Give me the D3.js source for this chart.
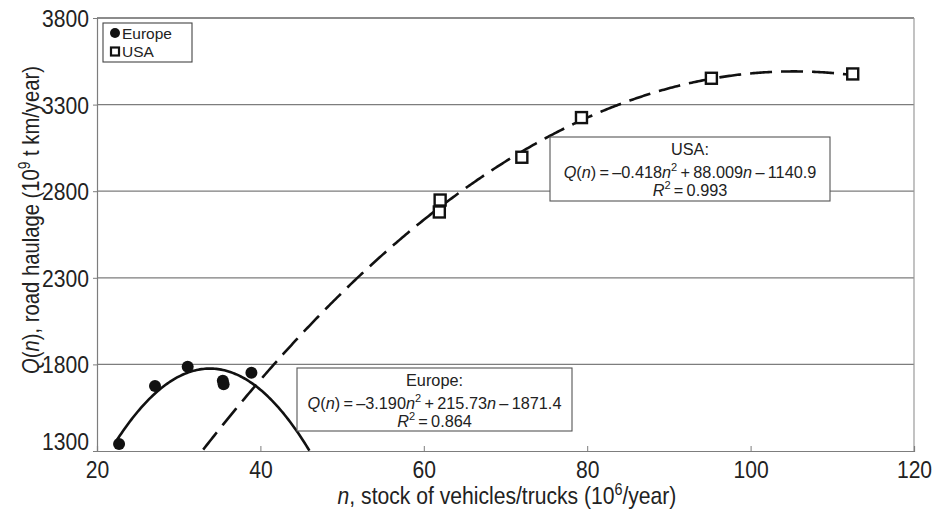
<!DOCTYPE html>
<html>
<head>
<meta charset="utf-8">
<script src="https://cdn.jsdelivr.net/npm/d3@7/dist/d3.min.js"></script>
<style>
  html, body { margin: 0; padding: 0; background: #fff; }
  svg { display: block; }
  text { font-family: "Liberation Sans", Arial, sans-serif; fill: #222; }
</style>
</head>
<body>
<svg id="chart" width="932" height="513"></svg>
<script>
// Observed data points
const europeN = [22.7, 27.1, 31.1, 35.4, 35.5, 38.9];
const europeQ = [1340, 1675, 1787, 1705, 1685, 1752];
const usaN = [62.0, 61.9, 72.0, 79.3, 95.2, 112.5];
const usaQ = [2749, 2680, 2996, 3225, 3452, 3477];

// Quadratic trend coefficients [a, b, c] for Q(n) = a n^2 + b n + c
const europeFit = [-3.190, 215.73, -1871.4];
const usaFit = [-0.418, 88.009, -1140.9];
const europeR2 = 0.864;
const usaR2 = 0.993;

// Axis ticks
const xTicks = [20, 40, 60, 80, 100, 120];
const yTicks = [1300, 1800, 2300, 2800, 3300, 3800];

const svg = d3.select("#chart");
const margin = { left: 97, right: 18, top: 18, bottom: 62 };
const W = 932, H = 513;
const squeeze = 0.88;   // horizontal condensing for axis text

const x = d3.scaleLinear().domain([20, 120]).range([margin.left, W - margin.right]);
const y = d3.scaleLinear().domain([1300, 3800]).range([H - margin.bottom, margin.top]);

const grid = "#7d7d7d";

// Horizontal gridlines
svg.append("g").selectAll("line")
  .data(yTicks.slice(1, -1))
  .join("line")
  .attr("x1", x(20)).attr("x2", x(120))
  .attr("y1", d => y(d)).attr("y2", d => y(d))
  .attr("stroke", grid).attr("stroke-width", 1.2);

// Frame: top and right edges
svg.append("line").attr("x1", x(20)).attr("x2", x(120)).attr("y1", y(3800)).attr("y2", y(3800))
  .attr("stroke", "#666").attr("stroke-width", 1.6);
svg.append("line").attr("x1", x(120)).attr("x2", x(120)).attr("y1", y(3800)).attr("y2", y(1300))
  .attr("stroke", "#9a9a9a").attr("stroke-width", 1.2);

// Axes
const xAxis = d3.axisBottom(x).tickValues(xTicks).tickSize(-5).tickFormat(d3.format("d"));
const yAxis = d3.axisLeft(y).tickValues(yTicks).tickSize(4).tickFormat(d3.format("d"));

const gx = svg.append("g").attr("transform", `translate(0,${y(1300)})`).call(xAxis);
const gy = svg.append("g").attr("transform", `translate(${x(20)},0)`).call(yAxis);
[gx, gy].forEach(g => {
  g.select(".domain").attr("stroke", grid).attr("stroke-width", 1.2);
  g.selectAll(".tick line").attr("stroke", grid);
  g.selectAll(".tick text").attr("font-size", 24).attr("fill", "#222")
    .attr("font-family", null).attr("transform", `scale(${squeeze},1)`);
});
gx.selectAll(".tick text").attr("y", 27).attr("dy", null);
gy.selectAll(".tick text").attr("x", -8 / squeeze).attr("dy", "0.35em");
gy.selectAll(".tick text").filter(d => d === 1300).attr("y", -10).attr("dy", "0.35em");

// Trend curves from the fitted quadratics, restricted to the plotted range
function fitPoints(coef, n0, n1) {
  const pts = [];
  for (let n = n0; n <= n1 + 1e-9; n += 0.2) {
    const q = coef[0] * n * n + coef[1] * n + coef[2];
    if (q >= 1300) pts.push([n, q]);
  }
  return pts;
}
const curve = d3.line().x(d => x(d[0])).y(d => y(d[1]));

svg.append("path").datum(fitPoints(europeFit, 22.4, 46.5))
  .attr("d", curve).attr("fill", "none").attr("stroke", "#111").attr("stroke-width", 2.6);

svg.append("path").datum(fitPoints(usaFit, 32.8, 112.5))
  .attr("d", curve).attr("fill", "none").attr("stroke", "#111").attr("stroke-width", 2.6)
  .attr("stroke-dasharray", "22,9");

// Rich text helper: segments with italic / superscript parts
function richText(sel, segs, size) {
  sel.attr("font-size", size);
  segs.forEach(s => {
    const t = sel.append("tspan").text(s.t);
    if (s.i) t.attr("font-style", "italic");
    if (s.sup) t.attr("font-size", size * 0.68).attr("dy", -size * 0.38);
    if (s.after) t.attr("dy", size * 0.38);
  });
}

// Equation boxes
function eqBox(cx, top, w, h, title, coef, r2) {
  const g = svg.append("g");
  g.append("rect").attr("x", cx - w / 2).attr("y", top).attr("width", w).attr("height", h)
    .attr("fill", "#fff").attr("stroke", "#555").attr("stroke-width", 1.1);
  const fs = 16.3;
  g.append("text").attr("x", cx).attr("y", top + 18).attr("text-anchor", "middle")
    .attr("font-size", fs).text(title);
  const a = coef[0].toFixed(3), b = coef[1], c = Math.abs(coef[2]).toFixed(1);
  const eq = g.append("text").attr("x", cx).attr("y", top + 40.5).attr("text-anchor", "middle");
  richText(eq, [
    { t: "Q", i: true }, { t: "(" }, { t: "n", i: true },
    { t: ")\u2009=\u2009\u2013" + a.replace("-", "") }, { t: "n", i: true }, { t: "2", sup: true },
    { t: "\u2009+\u2009" + b, after: true }, { t: "n", i: true }, { t: "\u2009\u2013\u2009" + c }
  ], fs);
  const r = g.append("text").attr("x", cx).attr("y", top + 58.5).attr("text-anchor", "middle");
  richText(r, [
    { t: "R", i: true }, { t: "2", sup: true }, { t: "\u2009=\u2009" + r2.toFixed(3), after: true }
  ], fs);
}
eqBox(434.5, 368, 275, 63, "Europe:", europeFit, europeR2);
eqBox(690, 137, 280, 64, "USA:", usaFit, usaR2);

// Data markers
svg.append("g").selectAll("circle")
  .data(d3.zip(europeN, europeQ))
  .join("circle")
  .attr("cx", d => x(d[0])).attr("cy", d => y(d[1])).attr("r", 6)
  .attr("fill", "#111");

const sq = 11;
svg.append("g").selectAll("rect")
  .data(d3.zip(usaN, usaQ))
  .join("rect")
  .attr("x", d => x(d[0]) - sq / 2).attr("y", d => y(d[1]) - sq / 2)
  .attr("width", sq).attr("height", sq)
  .attr("fill", "#fff").attr("stroke", "#111").attr("stroke-width", 2.4);

// Legend
const lg = svg.append("g");
lg.append("rect").attr("x", 103).attr("y", 23).attr("width", 89).attr("height", 39)
  .attr("fill", "#fff").attr("stroke", "#444").attr("stroke-width", 1.1);
lg.append("circle").attr("cx", 115).attr("cy", 33).attr("r", 5).attr("fill", "#111");
lg.append("text").attr("x", 122).attr("y", 38.5).attr("font-size", 15.5).text("Europe");
lg.append("rect").attr("x", 111).attr("y", 47.5).attr("width", 8).attr("height", 8)
  .attr("fill", "#fff").attr("stroke", "#111").attr("stroke-width", 2.2);
lg.append("text").attr("x", 122).attr("y", 57).attr("font-size", 15.5).text("USA");

// Axis titles
const xt = svg.append("text")
  .attr("transform", `translate(507,504) scale(${squeeze},1)`).attr("text-anchor", "middle");
richText(xt, [
  { t: "n", i: true }, { t: ", stock of vehicles/trucks (10" }, { t: "6", sup: true },
  { t: "/year)", after: true }
], 24);

const yt = svg.append("text")
  .attr("transform", `translate(39,220) rotate(-90) scale(${squeeze},1)`)
  .attr("text-anchor", "middle");
richText(yt, [
  { t: "Q", i: true }, { t: "(" }, { t: "n", i: true }, { t: "), road haulage (10" },
  { t: "9", sup: true }, { t: " t km/year)", after: true }
], 23);
</script>
</body>
</html>
